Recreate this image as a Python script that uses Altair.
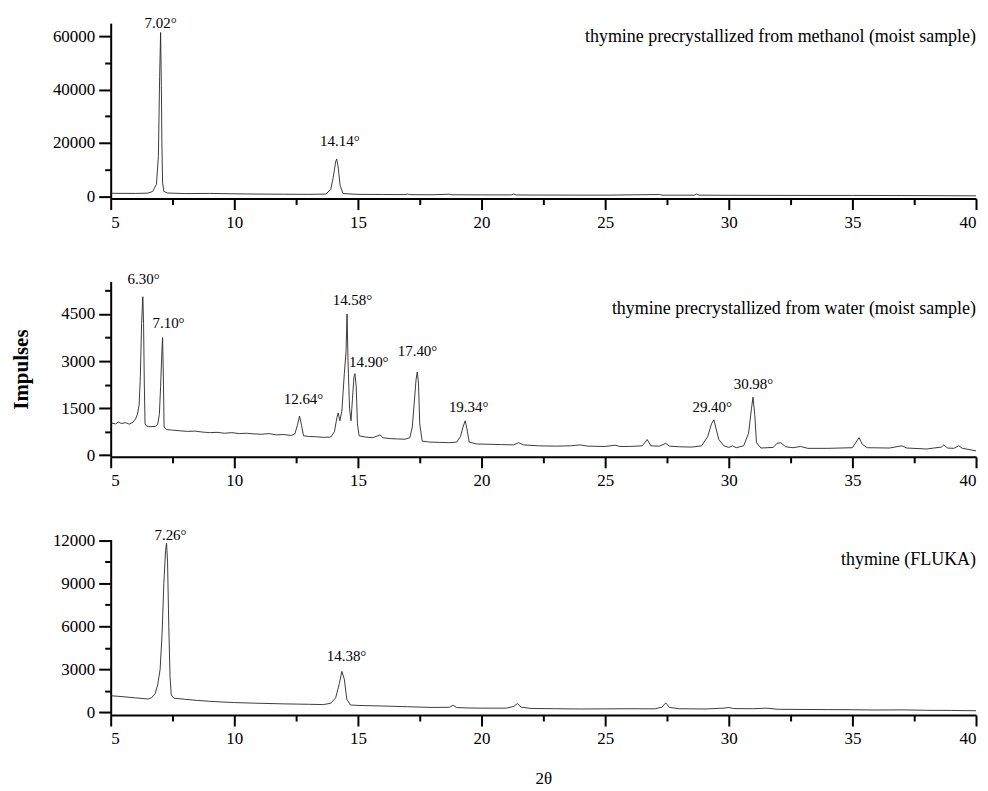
import altair as alt
import pandas as pd

FONT = "Liberation Serif"

# ---------------- Panel 1: thymine precrystallized from methanol ----------------
meth_x = [5.0, 6.0, 6.5, 6.7, 6.85, 6.93, 6.98, 7.02, 7.05, 7.07, 7.1, 7.15, 7.3, 8.0, 9.0,
          10.0, 11.0, 12.0, 13.0, 13.7, 13.9, 14.0, 14.1, 14.14, 14.2, 14.28, 14.4, 15.0,
          16.0, 16.9, 17.0, 17.1, 18.0, 18.7, 18.8, 20.0, 21.2, 21.3, 21.4, 22.0, 25.0,
          27.2, 27.3, 28.6, 28.7, 28.8, 30.0, 33.0, 35.0, 37.0, 40.0]
meth_y = [1100, 1050, 1150, 1800, 4500, 15000, 45000, 61500, 41500, 20000, 5000, 1800, 1200,
          1000, 1050, 900, 800, 750, 700, 800, 2500, 7000, 13000, 14000, 11000, 4000, 1000,
          700, 650, 600, 800, 600, 550, 750, 550, 500, 500, 800, 500, 450, 400, 650, 400, 400,
          800, 400, 350, 300, 300, 250, 150]
meth_lab_text = ["7.02°", "14.14°"]
meth_lab_x = [7.02, 14.27]
meth_lab_y = [63000, 18750]

# ---------------- Panel 2: thymine precrystallized from water ----------------
water_x = [5.0, 5.2, 5.3, 5.45, 5.6, 5.75, 5.9, 6.0, 6.08, 6.15, 6.2, 6.25, 6.30, 6.33, 6.36,
           6.39, 6.45, 6.6, 6.8, 6.9, 6.97, 7.02, 7.07, 7.10, 7.13, 7.16, 7.25, 7.5, 7.8, 8.1,
           8.4, 8.7, 9.0, 9.3, 9.6, 9.9, 10.2, 10.5, 10.8, 11.1, 11.4, 11.7, 12.0, 12.3, 12.45,
           12.55, 12.64, 12.72, 12.8, 13.0, 13.3, 13.6, 13.9, 14.05, 14.15, 14.2, 14.27, 14.35,
           14.45, 14.52, 14.56, 14.6, 14.66, 14.72, 14.78, 14.84, 14.88, 14.93, 14.98, 15.05,
           15.3, 15.6, 15.8, 15.9, 16.0, 16.3, 16.6, 16.9, 17.1, 17.2, 17.28, 17.35, 17.4,
           17.45, 17.5, 17.6, 17.9, 18.3, 18.7, 19.0, 19.15, 19.25, 19.34, 19.42, 19.5, 19.8,
           20.3, 20.8, 21.3, 21.5, 21.7, 22.3, 23.0, 23.6, 24.0, 24.3, 25.0, 25.4, 25.6, 26.0,
           26.5, 26.7, 26.85, 27.2, 27.45, 27.6, 28.0, 28.5, 28.9, 29.15, 29.3, 29.4, 29.5,
           29.6, 29.8, 30.0, 30.15, 30.3, 30.6, 30.8, 30.92, 30.98, 31.05, 31.12, 31.3, 31.8,
           31.95, 32.1, 32.3, 32.6, 32.9, 33.2, 34.0, 35.0, 35.15, 35.27, 35.4, 35.6, 36.5,
           37.0, 37.2, 38.0, 38.6, 38.7, 38.85, 39.1, 39.3, 39.45, 39.8, 40.0]
water_y = [1030, 1000, 1060, 1010, 1040, 990, 1050, 1150, 1300, 1600, 2500, 4200, 5050, 4200,
           2300, 1000, 930, 910, 920, 980, 1300, 2200, 3300, 3750, 2500, 900, 820, 800, 780,
           760, 770, 740, 720, 730, 700, 720, 690, 700, 680, 670, 690, 650, 660, 630, 680, 950,
           1250, 950, 620, 600, 590, 570, 580, 750, 1200, 1350, 1100, 1400, 2600, 3300, 4500,
           3000, 1500, 1100, 1800, 2500, 2600, 2200, 1000, 620, 580, 560, 620, 650, 560, 530,
           520, 510, 560, 900, 1700, 2400, 2650, 2300, 1000, 450, 420, 410, 400, 420, 600, 900,
           1100, 800, 420, 360, 350, 340, 330, 400, 330, 300, 290, 300, 330, 290, 280, 320, 280,
           280, 300, 500, 300, 290, 380, 290, 270, 260, 300, 600, 1000, 1130, 800, 500, 300, 250,
           300, 240, 300, 700, 1500, 1850, 1300, 400, 230, 250, 380, 400, 270, 240, 280, 220,
           220, 240, 420, 560, 350, 240, 230, 300, 230, 200, 260, 330, 230, 220, 300, 220, 170,
           140]
water_lab_text = ["6.30°", "7.10°", "12.64°", "14.58°", "14.90°", "17.40°", "19.34°",
                  "29.40°", "30.98°"]
water_lab_x = [6.33, 7.34, 12.8, 14.78, 15.44, 17.41, 19.48, 29.33, 31.0]
water_lab_y = [5454, 4060, 1627, 4774, 2800, 3178, 1385, 1363, 2098]

# ---------------- Panel 3: thymine (FLUKA) ----------------
fluka_x = [5.0, 5.5, 6.0, 6.5, 6.65, 6.8, 6.9, 7.0, 7.08, 7.15, 7.22, 7.26, 7.3, 7.35, 7.4,
           7.45, 7.55, 8.0, 8.5, 9.0, 9.5, 10.0, 11.0, 12.0, 13.0, 13.6, 13.9, 14.1, 14.25,
           14.35, 14.45, 14.55, 14.7, 15.0, 16.0, 17.0, 18.0, 18.7, 18.85, 19.0, 19.5, 20.0,
           21.0, 21.3, 21.45, 21.6, 22.0, 23.0, 24.0, 25.0, 26.0, 27.0, 27.3, 27.45, 27.6,
           28.0, 29.0, 29.8, 30.0, 30.2, 31.0, 31.5, 32.0, 33.0, 34.0, 35.0, 36.0, 37.0, 38.0,
           39.0, 40.0]
fluka_y = [1150, 1080, 1000, 920, 1000, 1300, 1900, 3000, 5500, 9000, 11300, 11800, 10500,
           6000, 2500, 1200, 980, 900, 820, 760, 710, 670, 620, 580, 550, 530, 620, 1000, 2000,
           2850, 2300, 900, 500, 470, 430, 380, 330, 340, 480, 320, 290, 280, 280, 400, 600,
           350, 260, 240, 220, 230, 240, 230, 350, 650, 330, 240, 220, 280, 330, 250, 240, 280,
           200, 190, 180, 170, 150, 160, 130, 120, 100]
fluka_lab_text = ["7.26°", "14.38°"]
fluka_lab_x = [7.42, 14.54]
fluka_lab_y = [12050, 3607]

notes = ["thymine precrystallized from methanol (moist sample)",
         "thymine precrystallized from water (moist sample)",
         "thymine (FLUKA)"]
note_y = [57750, 4510, 10313]

x_major = [5, 10, 15, 20, 25, 30, 35, 40]
x_minor = [7.5, 12.5, 17.5, 22.5, 27.5, 32.5, 37.5]

W, H = 868, 176


def panel(xs, ys, ydom, ymajor, yminor, lab_t, lab_x, lab_y, note, ny,
          ytitle=None, xtitle=None):
    df = pd.DataFrame({"x": xs, "y": ys})
    xs_ = alt.Scale(domain=[5, 40], nice=False, zero=False)
    ys_ = alt.Scale(domain=ydom, nice=False, zero=False)

    xax = dict(values=x_major, tickSize=11, labelPadding=5, format="d", orient="bottom",
               title=xtitle, titleFontWeight="normal", titleFontSize=17, titlePadding=24)
    yax = dict(values=ymajor, tickSize=12, labelPadding=4, format="d", orient="left",
               title=ytitle, titleFontWeight="bold", titleFontSize=21, titlePadding=29)

    line = alt.Chart(df).mark_line(color="#262626", strokeWidth=0.9).encode(
        x=alt.X("x:Q", scale=xs_, axis=alt.Axis(**xax)),
        y=alt.Y("y:Q", scale=ys_, axis=alt.Axis(**yax)),
    )
    minor = alt.Chart(df).mark_line(opacity=0).encode(
        x=alt.X("x:Q", scale=xs_, axis=alt.Axis(values=x_minor, labels=False, domain=False,
                                                tickSize=6, orient="bottom", title=None)),
        y=alt.Y("y:Q", scale=ys_, axis=alt.Axis(values=yminor, labels=False, domain=False,
                                                tickSize=6, orient="left", title=None)),
    )
    ldf = pd.DataFrame({"t": lab_t, "x": lab_x, "y": lab_y})
    labels = alt.Chart(ldf).mark_text(font=FONT, fontSize=15, baseline="alphabetic",
                                      align="center", color="black").encode(
        x=alt.X("x:Q", scale=xs_, axis=None),
        y=alt.Y("y:Q", scale=ys_, axis=None),
        text="t:N",
    )
    ndf = pd.DataFrame({"t": [note], "x": [40.0], "y": [ny]})
    ntext = alt.Chart(ndf).mark_text(font=FONT, fontSize=18, baseline="alphabetic",
                                     align="right", color="black").encode(
        x=alt.X("x:Q", scale=xs_, axis=None),
        y=alt.Y("y:Q", scale=ys_, axis=None),
        text="t:N",
    )
    return alt.layer(line, minor, labels, ntext).resolve_axis(
        x="independent", y="independent").properties(width=W, height=H)


p1 = panel(meth_x, meth_y, [-900, 65000], [0, 20000, 40000, 60000], [10000, 30000, 50000],
           meth_lab_text, meth_lab_x, meth_lab_y, notes[0], note_y[0])
p2 = panel(water_x, water_y, [-50, 5540], [0, 1500, 3000, 4500], [750, 2250, 3750, 5250],
           water_lab_text, water_lab_x, water_lab_y, notes[1], note_y[1], ytitle="Impulses")
p3 = panel(fluka_x, fluka_y, [-200, 12060], [0, 3000, 6000, 9000, 12000],
           [1500, 4500, 7500, 10500],
           fluka_lab_text, fluka_lab_x, fluka_lab_y, notes[2], note_y[2], xtitle="2θ")

chart = alt.vconcat(p1, p2, p3, spacing=83, bounds="flush").properties(
    padding={"left": 3, "top": 7, "right": 2, "bottom": 2},
    background="white",
).configure_view(stroke=None).configure_axis(
    labelFont=FONT, labelFontSize=17, labelColor="black",
    titleFont=FONT, titleColor="black",
    domainColor="black", domainWidth=2, tickColor="black", tickWidth=2,
    grid=False,
)

chart.save("out.html", embed_options={"renderer": "svg", "actions": False})
